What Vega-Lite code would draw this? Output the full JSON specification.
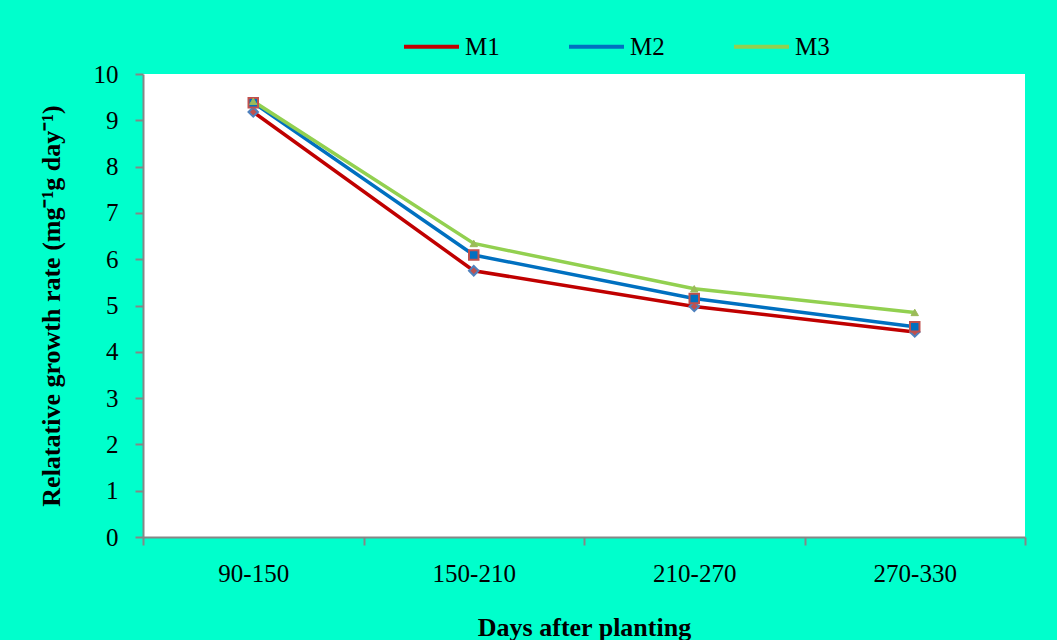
{
  "$schema": "https://vega.github.io/schema/vega-lite/v6.json",
  "width": 882,
  "height": 463,
  "autosize": {"type": "none"},
  "padding": {"left": 143, "top": 74, "right": 32, "bottom": 103},
  "background": "#00FFCC",
  "config": {
    "view": {"fill": "white", "stroke": null},
    "font": "Liberation Serif",
    "axis": {
      "domainColor": "#868686",
      "domainWidth": 2,
      "tickColor": "#868686",
      "tickWidth": 2,
      "tickSize": 8,
      "labelFont": "Liberation Serif",
      "labelFontSize": 25,
      "labelColor": "black",
      "titleFont": "Liberation Serif",
      "titleFontSize": 26,
      "titleFontWeight": "bold",
      "titleColor": "black",
      "grid": false
    }
  },
  "data": {
    "values": [
      {"period": "90-150", "series": "M1", "rgr": 9.18},
      {"period": "150-210", "series": "M1", "rgr": 5.75},
      {"period": "210-270", "series": "M1", "rgr": 4.98},
      {"period": "270-330", "series": "M1", "rgr": 4.43},
      {"period": "90-150", "series": "M2", "rgr": 9.38},
      {"period": "150-210", "series": "M2", "rgr": 6.09},
      {"period": "210-270", "series": "M2", "rgr": 5.15},
      {"period": "270-330", "series": "M2", "rgr": 4.54},
      {"period": "90-150", "series": "M3", "rgr": 9.41},
      {"period": "150-210", "series": "M3", "rgr": 6.34},
      {"period": "210-270", "series": "M3", "rgr": 5.36},
      {"period": "270-330", "series": "M3", "rgr": 4.85}
    ]
  },
  "encoding": {
    "x": {
      "field": "period",
      "type": "ordinal",
      "sort": ["90-150", "150-210", "210-270", "270-330"],
      "scale": {"paddingInner": 0, "paddingOuter": 0},
      "axis": {
        "title": "Days after planting",
        "labelAngle": 0,
        "labelPadding": 16,
        "tickBand": "extent",
        "titlePadding": 28
      }
    },
    "y": {
      "field": "rgr",
      "type": "quantitative",
      "scale": {"domain": [0, 10], "nice": false},
      "axis": {
        "title": "Relatative growth rate (mg⁻¹g day⁻¹)",
        "values": [0, 1, 2, 3, 4, 5, 6, 7, 8, 9, 10],
        "labelPadding": 17,
        "titlePadding": 29
      }
    }
  },
  "layer": [
    {
      "mark": {"type": "line", "strokeWidth": 3.5},
      "encoding": {
        "color": {
          "field": "series",
          "type": "nominal",
          "scale": {"domain": ["M1", "M2", "M3"], "range": ["#C00000", "#0070C0", "#92D050"]},
          "legend": {
            "title": null,
            "orient": "none",
            "direction": "horizontal",
            "legendX": 259,
            "legendY": -57,
            "symbolType": "stroke",
            "symbolSize": 3025,
            "symbolStrokeWidth": 4,
            "labelFont": "Liberation Serif",
            "labelFontSize": 25,
            "labelColor": "black",
            "labelOffset": 4,
            "columnPadding": 61
          }
        }
      }
    },
    {
      "transform": [{"filter": "datum.series === 'M1'"}],
      "mark": {"type": "point", "shape": "diamond", "filled": true, "fill": "#C0504D", "stroke": "#4F81BD", "strokeWidth": 2, "size": 90, "opacity": 1}
    },
    {
      "transform": [{"filter": "datum.series === 'M2'"}],
      "mark": {"type": "point", "shape": "square", "filled": true, "fill": "#0070C0", "stroke": "#C0504D", "strokeWidth": 2, "size": 90, "opacity": 1}
    },
    {
      "transform": [{"filter": "datum.series === 'M3'"}],
      "mark": {"type": "point", "shape": "triangle-up", "filled": true, "fill": "#9BBB59", "stroke": "#9BBB59", "strokeWidth": 1, "size": 55, "opacity": 1}
    }
  ]
}
